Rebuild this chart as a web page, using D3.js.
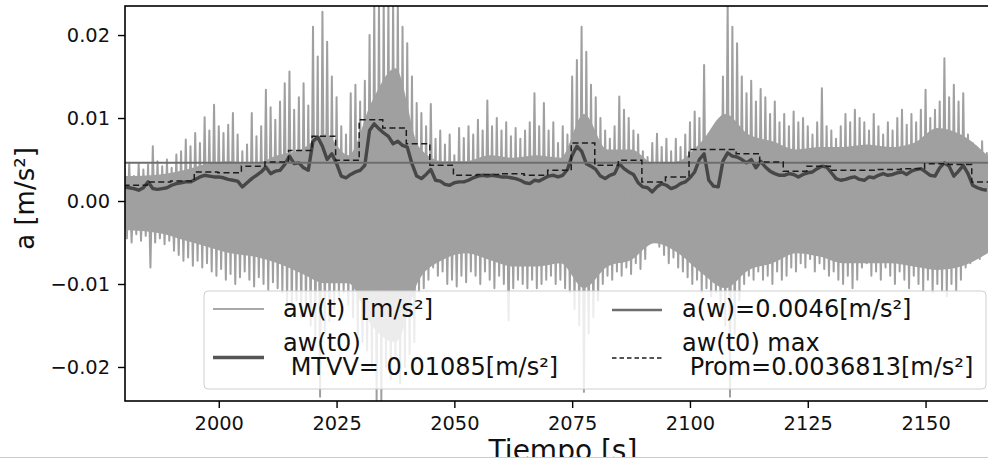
<!DOCTYPE html>
<html><head><meta charset="utf-8">
<script src="https://cdn.jsdelivr.net/npm/d3@7"></script>
<style>
body{margin:0;background:#fff}
svg{display:block}
text{font-family:"DejaVu Sans",sans-serif;fill:#111}
</style>
</head><body><svg id="c" width="988" height="461"></svg>
<script>
// ---- data ----
const tStart = 1980;           // first sample time [s], one sample per second
// positive and negative peaks of aw(t) within each second
const awUpper = [
0.0040,0.0046,0.0030,0.0045,0.0038,0.0044,0.0066,0.0048,0.0042,0.0050,
0.0040,0.0056,0.0060,0.0074,0.0066,0.0082,0.0070,0.0101,0.0085,0.0116,
0.0090,0.0082,0.0092,0.0106,0.0080,0.0060,0.0068,0.0106,0.0078,0.0090,
0.0134,0.0113,0.0098,0.0120,0.0142,0.0156,0.0110,0.0125,0.0142,0.0115,
0.0210,0.0174,0.0228,0.0192,0.0150,0.0125,0.0090,0.0080,0.0130,0.0140,
0.0120,0.0145,0.0200,0.0240,0.0240,0.0240,0.0240,0.0240,0.0240,0.0210,
0.0190,0.0150,0.0118,0.0106,0.0090,0.0117,0.0075,0.0085,0.0068,0.0080,
0.0055,0.0088,0.0076,0.0090,0.0080,0.0098,0.0085,0.0121,0.0090,0.0100,
0.0085,0.0095,0.0078,0.0088,0.0075,0.0085,0.0095,0.0130,0.0090,0.0118,
0.0085,0.0095,0.0070,0.0090,0.0080,0.0150,0.0170,0.0210,0.0180,0.0140,
0.0125,0.0100,0.0085,0.0075,0.0090,0.0126,0.0110,0.0100,0.0085,0.0080,
0.0060,0.0053,0.0070,0.0081,0.0065,0.0075,0.0060,0.0075,0.0065,0.0080,
0.0095,0.0108,0.0100,0.0164,0.0080,0.0060,0.0070,0.0150,0.0240,0.0210,
0.0190,0.0150,0.0130,0.0145,0.0120,0.0135,0.0125,0.0105,0.0120,0.0095,
0.0105,0.0090,0.0108,0.0095,0.0100,0.0090,0.0080,0.0095,0.0136,0.0090,
0.0085,0.0075,0.0090,0.0105,0.0095,0.0110,0.0100,0.0095,0.0085,0.0105,
0.0090,0.0080,0.0095,0.0085,0.0100,0.0110,0.0092,0.0105,0.0095,0.0110,
0.0134,0.0100,0.0110,0.0120,0.0172,0.0125,0.0140,0.0120,0.0130,0.0080,
0.0070,0.0060,0.0072,0.0058];
const awLower = [
-0.0045,-0.0050,-0.0040,-0.0048,-0.0042,-0.0080,-0.0050,-0.0045,-0.0052,-0.0048,
-0.0060,-0.0065,-0.0072,-0.0068,-0.0078,-0.0072,-0.0080,-0.0075,-0.0085,-0.0090,
-0.0082,-0.0095,-0.0088,-0.0100,-0.0092,-0.0085,-0.0095,-0.0103,-0.0092,-0.0100,
-0.0107,-0.0098,-0.0105,-0.0110,-0.0125,-0.0130,-0.0120,-0.0140,-0.0130,-0.0150,
-0.0165,-0.0236,-0.0160,-0.0145,-0.0130,-0.0120,-0.0110,-0.0125,-0.0140,-0.0160,
-0.0170,-0.0180,-0.0200,-0.0241,-0.0241,-0.0200,-0.0215,-0.0190,-0.0220,-0.0200,
-0.0185,-0.0170,-0.0110,-0.0105,-0.0095,-0.0080,-0.0090,-0.0085,-0.0100,-0.0095,
-0.0103,-0.0090,-0.0098,-0.0085,-0.0090,-0.0100,-0.0085,-0.0095,-0.0105,-0.0090,
-0.0100,-0.0144,-0.0105,-0.0095,-0.0100,-0.0105,-0.0095,-0.0105,-0.0100,-0.0095,
-0.0090,-0.0100,-0.0095,-0.0105,-0.0110,-0.0130,-0.0150,-0.0230,-0.0160,-0.0140,
-0.0120,-0.0100,-0.0090,-0.0095,-0.0085,-0.0090,-0.0080,-0.0088,-0.0075,-0.0082,
-0.0070,-0.0050,-0.0045,-0.0055,-0.0065,-0.0075,-0.0068,-0.0080,-0.0085,-0.0092,
-0.0100,-0.0095,-0.0110,-0.0105,-0.0115,-0.0110,-0.0130,-0.0150,-0.0236,-0.0160,
-0.0120,-0.0100,-0.0090,-0.0095,-0.0085,-0.0095,-0.0090,-0.0100,-0.0085,-0.0095,
-0.0090,-0.0080,-0.0085,-0.0075,-0.0080,-0.0070,-0.0085,-0.0075,-0.0082,-0.0090,
-0.0085,-0.0095,-0.0100,-0.0090,-0.0105,-0.0095,-0.0080,-0.0075,-0.0090,-0.0085,
-0.0095,-0.0080,-0.0090,-0.0100,-0.0085,-0.0095,-0.0105,-0.0090,-0.0100,-0.0108,
-0.0095,-0.0110,-0.0100,-0.0108,-0.0115,-0.0100,-0.0108,-0.0095,-0.0080,-0.0075,
-0.0060,-0.0070,-0.0055,-0.0050];
// limits of the dense (solid) part of aw(t), read every 5 s
const bandT = [1980,1987.5,1992.5,1997.5,2002.5,2007.5,2012.5,2017.5,2022.5,2027.5,
  2032.5,2037.5,2042.5,2047.5,2052.5,2057.5,2062.5,2067.5,2072.5,2077.5,2082.5,2087.5,
  2092.5,2097.5,2102.5,2107.5,2112.5,2117.5,2122.5,2127.5,2132.5,2137.5,2142.5,2147.5,
  2152.5,2157.5,2164];
const bandHi = [0.0030,0.0032,0.0037,0.0045,0.0048,0.0045,0.0055,0.0062,0.0080,0.0055,
  0.0120,0.0160,0.0065,0.0048,0.0048,0.0055,0.0052,0.0055,0.0052,0.0105,0.0062,0.0062,
  0.0045,0.0048,0.0072,0.0105,0.0080,0.0072,0.0062,0.0065,0.0065,0.0068,0.0065,0.0070,
  0.0088,0.0080,0.0050];
const bandLo = [-0.0035,-0.0039,-0.0047,-0.0055,-0.0063,-0.0067,-0.0075,-0.0087,-0.0099,-0.0099,
  -0.0150,-0.0170,-0.0095,-0.0071,-0.0063,-0.0071,-0.0079,-0.0079,-0.0075,-0.0105,-0.0079,-0.0071,
  -0.0051,-0.0063,-0.0087,-0.0105,-0.0083,-0.0075,-0.0063,-0.0067,-0.0075,-0.0075,-0.0075,-0.0079,
  -0.0083,-0.0079,-0.0060];
const awT0 = [
0.0017,0.0016,0.0015,0.0013,0.0016,0.0023,0.0015,0.0014,0.0015,0.0016,
0.0019,0.0021,0.0022,0.0023,0.0023,0.0026,0.0029,0.0031,0.0030,0.0029,
0.0029,0.0028,0.0026,0.0025,0.0024,0.0017,0.0022,0.0027,0.0031,0.0035,
0.0041,0.0033,0.0036,0.0037,0.0044,0.0054,0.0045,0.0046,0.0040,0.0037,
0.0072,0.0077,0.0066,0.0050,0.0057,0.0045,0.0030,0.0028,0.0032,0.0035,
0.0037,0.0043,0.0085,0.0093,0.0087,0.0082,0.0078,0.0069,0.0072,0.0067,
0.0065,0.0045,0.0030,0.0027,0.0032,0.0038,0.0025,0.0024,0.0020,0.0019,
0.0022,0.0023,0.0023,0.0025,0.0028,0.0030,0.0031,0.0030,0.0031,0.0030,
0.0029,0.0029,0.0028,0.0027,0.0025,0.0022,0.0021,0.0025,0.0024,0.0027,
0.0030,0.0031,0.0029,0.0031,0.0038,0.0055,0.0066,0.0060,0.0045,0.0042,
0.0038,0.0030,0.0027,0.0031,0.0033,0.0045,0.0039,0.0035,0.0032,0.0022,
0.0017,0.0016,0.0011,0.0017,0.0021,0.0019,0.0015,0.0017,0.0021,0.0023,
0.0028,0.0035,0.0050,0.0057,0.0025,0.0018,0.0017,0.0048,0.0058,0.0054,
0.0053,0.0050,0.0046,0.0050,0.0040,0.0048,0.0041,0.0036,0.0033,0.0031,
0.0031,0.0033,0.0032,0.0029,0.0032,0.0034,0.0035,0.0039,0.0042,0.0041,
0.0034,0.0027,0.0025,0.0026,0.0028,0.0029,0.0026,0.0025,0.0029,0.0028,
0.0031,0.0033,0.0031,0.0032,0.0034,0.0035,0.0032,0.0036,0.0038,0.0039,
0.0035,0.0031,0.0030,0.0040,0.0046,0.0042,0.0030,0.0036,0.0043,0.0033,
0.0019,0.0016,0.0014,0.0013];
const maxStart = [1979.8,1984.8,1989.8,1994.8,1999.8,2004.8,2009.8,2014.8,2019.8,2024.8,
  2029.8,2034.8,2039.8,2044.8,2049.8,2054.8,2059.8,2064.8,2069.8,2074.8,2079.8,2084.8,
  2089.8,2094.8,2099.8,2104.8,2109.8,2114.8,2119.8,2124.8,2129.8,2134.8,2139.8,2144.8,
  2149.8,2154.8,2159.8,2164.8];
const maxValue = [0.0019,0.0023,0.0024,0.0035,0.0034,0.0042,0.0047,0.0061,0.0078,0.0049,
  0.0098,0.0088,0.0069,0.0043,0.0031,0.0032,0.0033,0.0031,0.0037,0.0070,0.0043,0.0049,
  0.0023,0.0029,0.0062,0.0062,0.0057,0.0047,0.0036,0.0042,0.0037,0.0037,0.0038,0.0039,
  0.0045,0.0044,0.0023,0.0023];
const aW = 0.0046;
const xTicks = [2000,2025,2050,2075,2100,2125,2150];
const yTicks = [-0.02,-0.01,0.00,0.01,0.02];
const legendLabels = ["aw(t)  [m/s²]", "aw(t0)", " MTVV= 0.01085[m/s²]", "a(w)=0.0046[m/s²]", "aw(t0) max", " Prom=0.0036813[m/s²]"];

// ---- chart ----
const svg = d3.select("#c");
const L = 125, T = 6, B = 401, R = 992;
const x = d3.scaleLinear().domain([1980.1, 2164.1]).range([L, R]);
const y = d3.scaleLinear().domain([-0.0241, 0.0235]).range([B, T]);
const sigColor = "#a0a0a0";

svg.append("defs").append("clipPath").attr("id","clip")
  .append("rect").attr("x",L).attr("y",T).attr("width",R-L).attr("height",B-T);

const times = awUpper.map((_, i) => tStart + i);
// the oscillating signal: positive peak then negative peak in each second
const sig = [];
times.forEach((t, i) => { sig.push({t, v: awUpper[i]}); sig.push({t: t + 0.5, v: awLower[i]}); });
const band = bandT.map((t, i) => ({t, hi: bandHi[i], lo: bandLo[i]}));
const rms = times.map((t, i) => ({t, v: awT0[i]}));

const plot = svg.append("g").attr("clip-path","url(#clip)");

plot.append("path").datum(band)
  .attr("fill", sigColor)
  .attr("d", d3.area().curve(d3.curveMonotoneX).x(d => x(d.t)).y0(d => y(d.lo)).y1(d => y(d.hi)));

plot.append("path").datum(sig)
  .attr("fill","none").attr("stroke",sigColor).attr("stroke-width",2)
  .attr("stroke-linejoin","round")
  .attr("d", d3.line().x(d => x(d.t)).y(d => y(d.v)));

plot.append("path").datum(rms)
  .attr("fill","none").attr("stroke","#474747").attr("stroke-width",3.4)
  .attr("stroke-linejoin","round")
  .attr("d", d3.line().x(d => x(d.t)).y(d => y(d.v)));

plot.append("line")
  .attr("x1",L).attr("x2",R).attr("y1",y(aW)).attr("y2",y(aW))
  .attr("stroke","#6e6e6e").attr("stroke-width",2);

const steps = maxStart.map((t, i) => ({t, v: maxValue[i]}));
plot.append("path").datum(steps)
  .attr("fill","none").attr("stroke","#1c1c1c").attr("stroke-width",1.5)
  .attr("stroke-dasharray","6,3.5")
  .attr("d", d3.line().curve(d3.curveStepAfter).x(d => x(d.t)).y(d => y(d.v)));

// axes
const fmt = d3.format(".2f");
const ya = svg.append("g").attr("transform",`translate(${L},0)`)
  .call(d3.axisLeft(y).tickValues(yTicks).tickFormat(fmt).tickSize(7).tickPadding(8));
const xa = svg.append("g").attr("transform",`translate(0,${B})`)
  .call(d3.axisBottom(x).tickValues(xTicks).tickFormat(d3.format("d")).tickSize(7).tickPadding(8));
[ya, xa].forEach(a => {
  a.select(".domain").remove();
  a.selectAll(".tick line").attr("stroke","#000").attr("stroke-width",1.4);
  a.selectAll(".tick text").attr("font-size","19.4px").attr("fill","#111")
    .attr("font-family","DejaVu Sans, sans-serif");
});

svg.append("rect").attr("x",L).attr("y",T).attr("width",R-L).attr("height",B-T)
  .attr("fill","none").attr("stroke","#000").attr("stroke-width",1.6);

// legend
const lg = svg.append("g");
lg.append("rect").attr("x",204).attr("y",291).attr("width",782).attr("height",98)
  .attr("rx",4).attr("fill","#fff").attr("fill-opacity",0.8)
  .attr("stroke","#cfcfcf").attr("stroke-width",1);
lg.append("line").attr("x1",213).attr("x2",264).attr("y1",309).attr("y2",309)
  .attr("stroke","#a9a9a9").attr("stroke-width",2);
lg.append("line").attr("x1",213).attr("x2",264).attr("y1",357.5).attr("y2",357.5)
  .attr("stroke","#555").attr("stroke-width",3.4);
lg.append("line").attr("x1",612).attr("x2",662).attr("y1",310).attr("y2",310)
  .attr("stroke","#6e6e6e").attr("stroke-width",2.4);
lg.append("line").attr("x1",612).attr("x2",662).attr("y1",358).attr("y2",358)
  .attr("stroke","#1c1c1c").attr("stroke-width",1.5).attr("stroke-dasharray","4.5,3");
const lt = [[283,317,0],[283,350.5,1],[283,374.5,2],[682,317,3],[682,350.5,4],[682,374.5,5]];
lt.forEach(([tx,ty,i]) => {
  lg.append("text").attr("x",tx).attr("y",ty).attr("font-size","24px")
    .style("white-space","pre").text(legendLabels[i]);
});

// axis labels
svg.append("text").attr("transform","translate(34,198.5) rotate(-90)")
  .attr("text-anchor","middle").attr("font-size","26px").text("a [m/s²]");
svg.append("text").attr("x",563).attr("y",460).attr("text-anchor","middle")
  .attr("font-size","28px").text("Tiempo [s]");

// bottom edge of the screenshot
svg.append("rect").attr("x",0).attr("y",458).attr("width",988).attr("height",3).attr("fill","#fff");
svg.append("line").attr("x1",0).attr("x2",988).attr("y1",457.5).attr("y2",457.5)
  .attr("stroke","#cccccc").attr("stroke-width",1);
</script></body></html>
